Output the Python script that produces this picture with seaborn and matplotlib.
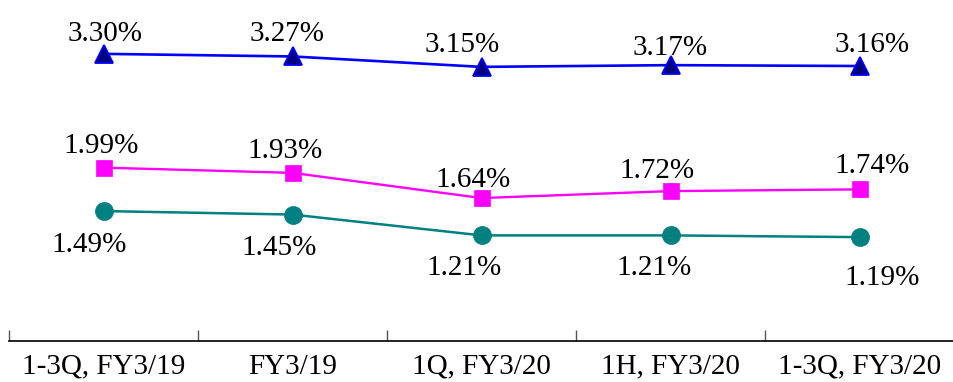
import numpy as np
import pandas as pd
import matplotlib
matplotlib.use("Agg")
import matplotlib.pyplot as plt
import seaborn as sns

# Reporting periods (x axis)
periods = ["1-3Q, FY3/19", "FY3/19", "1Q, FY3/20", "1H, FY3/20", "1-3Q, FY3/20"]

# Ratios in percent for each series
upper_ratio = [3.30, 3.27, 3.15, 3.17, 3.16]
middle_ratio = [1.99, 1.93, 1.64, 1.72, 1.74]
lower_ratio = [1.49, 1.45, 1.21, 1.21, 1.19]

sns.set_style("white")
plt.rcParams["font.family"] = ["Liberation Serif", "DejaVu Serif"]
plt.rcParams["text.color"] = "black"
plt.rcParams["xtick.color"] = "black"

fig = plt.figure(figsize=(9.54, 3.82), dpi=100)
ax = fig.add_axes([9 / 954, 41.5 / 382, 945 / 954, 1 - 41.5 / 382])

pos = np.arange(len(periods))
df = pd.DataFrame({
    "pos": pos,
    "upper": upper_ratio,
    "middle": middle_ratio,
    "lower": lower_ratio,
})

styles = {
    "upper": dict(color="#0000FF", marker="^", markersize=12.5,
                  markerfacecolor="#000080", markeredgecolor="#0000FF",
                  markeredgewidth=1.3, linewidth=1.9),
    "middle": dict(color="#FF00FF", marker="s", markersize=12,
                   markerfacecolor="#FF00FF", markeredgecolor="#FF00FF",
                   markeredgewidth=0.5, linewidth=1.7),
    "lower": dict(color="#008080", marker="o", markersize=13,
                  markerfacecolor="#008080", markeredgecolor="#008080",
                  markeredgewidth=0.5, linewidth=1.8),
}

# Label offsets from each marker (pixels: right, down) to keep labels clear of lines
label_offsets = {
    "upper": [(2, -22), (-5, -25), (-19, -24), (0, -20), (13, -24)],
    "middle": [(-2, -24), (-7, -24), (-8, -21), (-14, -23), (13, -26)],
    "lower": [(-14, 31), (-13, 31), (-17, 30), (-16, 30), (23, 38)],
}

px = 72 / 100  # points per pixel
for key in ["upper", "middle", "lower"]:
    sns.lineplot(data=df, x="pos", y=key, ax=ax, **styles[key])
    for i, v in enumerate(df[key]):
        dx, dy = label_offsets[key][i]
        ax.annotate(f"{v:.2f}%", xy=(df["pos"][i], v),
                    xytext=(dx * px, -(dy + 9.5) * px), textcoords="offset points",
                    ha="center", va="baseline", fontsize=21, color="black")

ax.set_xlim(-0.5, len(periods) - 0.5)
ax.set_ylim(0, 3.92)
ax.set_xlabel("")
ax.set_ylabel("")
ax.set_yticks([])

# Boundary ticks between periods, labels centred on each period
ax.set_xticks(np.arange(-0.5, len(periods) - 1, 1.0))
ax.set_xticklabels([])
ax.tick_params(axis="x", which="major", direction="in", length=8, width=1,
               color="#555555", bottom=True)
ax.set_xticks(pos, minor=True)
ax.set_xticklabels(periods, minor=True, fontsize=21)
ax.tick_params(axis="x", which="minor", length=0, pad=9.5, labelcolor="black")

for side in ["left", "top", "right"]:
    ax.spines[side].set_visible(False)
ax.spines["bottom"].set_color("black")
ax.spines["bottom"].set_linewidth(1.2)
ax.grid(False)

fig.savefig("out.png", dpi=100)
